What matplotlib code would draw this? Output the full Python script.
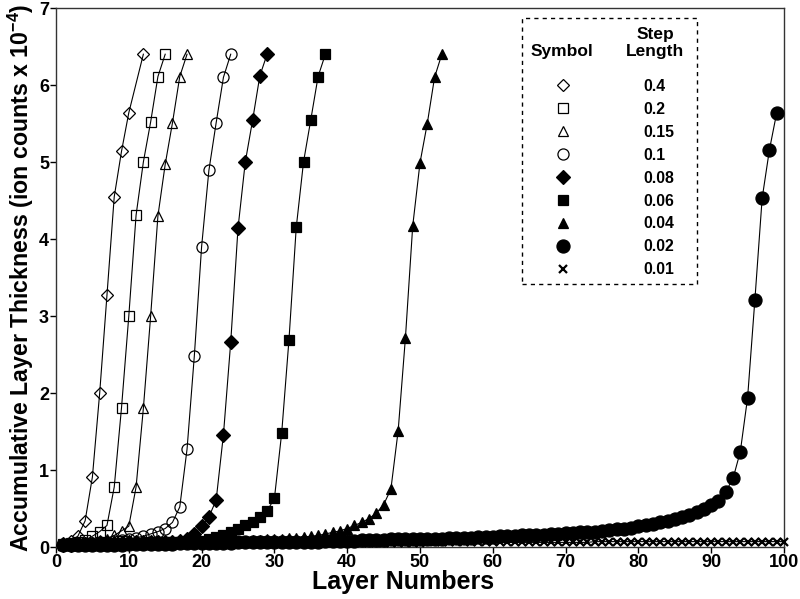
import matplotlib
matplotlib.use("Agg")
import matplotlib.pyplot as plt
from matplotlib.lines import Line2D

plt.rcParams['font.family'] = ['Liberation Sans', 'DejaVu Sans']
plt.rcParams['font.weight'] = 'bold'
plt.rcParams['mathtext.fontset'] = 'custom'
plt.rcParams['mathtext.rm'] = 'Liberation Sans:bold'
plt.rcParams['mathtext.bf'] = 'Liberation Sans:bold'
plt.rcParams['mathtext.it'] = 'Liberation Sans:italic:bold'

# ---------------- data ----------------
step_labels = ["0.4", "0.2", "0.15", "0.1", "0.08", "0.06", "0.04", "0.02", "0.01"]

s04_x = [1, 2, 3, 4, 5, 6, 7, 8, 9, 10, 12]
s04_y = [0.05, 0.08, 0.14, 0.34, 0.91, 2.00, 3.27, 4.55, 5.14, 5.64, 6.40]

s02_x = list(range(1, 16))
s02_y = [0.04, 0.05, 0.07, 0.09, 0.14, 0.20, 0.28, 0.78, 1.81, 3.00, 4.31, 5.00, 5.52, 6.11, 6.40]

s015_x = list(range(1, 19))
s015_y = [0.03, 0.04, 0.05, 0.06, 0.07, 0.09, 0.11, 0.15, 0.21, 0.27, 0.78, 1.80, 3.00, 4.30,
          4.97, 5.51, 6.11, 6.40]

s01_x = list(range(1, 25))
s01_y = [0.03, 0.04, 0.04, 0.05, 0.05, 0.06, 0.07, 0.08, 0.09, 0.10, 0.12, 0.14, 0.17, 0.20,
         0.24, 0.32, 0.52, 1.27, 2.48, 3.90, 4.89, 5.51, 6.10, 6.40]

s008_x = list(range(1, 30))
s008_y = [0.03, 0.03, 0.04, 0.04, 0.04, 0.05, 0.05, 0.05, 0.05, 0.06, 0.06, 0.06, 0.06, 0.07,
          0.07, 0.07, 0.08, 0.10, 0.17, 0.27, 0.39, 0.61, 1.46, 2.66, 4.14, 5.00, 5.54, 6.12, 6.40]

s006_x = list(range(1, 38))
s006_y = [0.03, 0.03, 0.03, 0.04, 0.04, 0.04, 0.04, 0.05, 0.05, 0.05, 0.05, 0.05, 0.06, 0.06,
          0.06, 0.06, 0.06, 0.07, 0.07, 0.08, 0.10, 0.13, 0.16, 0.20, 0.24, 0.28, 0.33, 0.39,
          0.47, 0.63, 1.48, 2.69, 4.15, 5.00, 5.55, 6.11, 6.40]

s004_x = list(range(1, 54))
s004_y = [0.02, 0.02, 0.03, 0.03, 0.03, 0.03, 0.04, 0.04, 0.04, 0.04,
          0.04, 0.05, 0.05, 0.05, 0.05, 0.05, 0.06, 0.06, 0.06, 0.06,
          0.07, 0.07, 0.07, 0.08, 0.08, 0.08, 0.09, 0.09, 0.10, 0.10,
          0.11, 0.12, 0.12, 0.13, 0.14, 0.15, 0.17, 0.19, 0.21, 0.24,
          0.28, 0.32, 0.37, 0.44, 0.55, 0.75, 1.51, 2.72, 4.17, 4.99,
          5.50, 6.10, 6.40]

s002_x = list(range(1, 100))
s002_y = [0.02, 0.02, 0.02, 0.03, 0.03, 0.03, 0.03, 0.03, 0.03, 0.04,
          0.04, 0.04, 0.04, 0.04, 0.04, 0.04, 0.05, 0.05, 0.05, 0.05,
          0.05, 0.05, 0.05, 0.05, 0.06, 0.06, 0.06, 0.06, 0.06, 0.06,
          0.07, 0.07, 0.07, 0.07, 0.07, 0.07, 0.08, 0.08, 0.08, 0.08,
          0.08, 0.09, 0.09, 0.09, 0.09, 0.10, 0.10, 0.10, 0.10, 0.11,
          0.11, 0.11, 0.11, 0.12, 0.12, 0.12, 0.12, 0.13, 0.13, 0.13,
          0.14, 0.14, 0.14, 0.15, 0.15, 0.16, 0.16, 0.17, 0.17, 0.18,
          0.18, 0.19, 0.20, 0.20, 0.21, 0.22, 0.23, 0.24, 0.25, 0.27,
          0.28, 0.30, 0.32, 0.34, 0.36, 0.39, 0.42, 0.46, 0.50, 0.55,
          0.60, 0.72, 0.89, 1.24, 1.94, 3.21, 4.53, 5.16, 5.64]

s001_x = list(range(1, 101))
s001_y = [0.03, 0.03, 0.03, 0.03, 0.03, 0.03, 0.03, 0.03, 0.03, 0.03,
          0.03, 0.03, 0.03, 0.04, 0.04, 0.04, 0.04, 0.04, 0.04, 0.04,
          0.04, 0.04, 0.04, 0.04, 0.04, 0.04, 0.04, 0.04, 0.04, 0.04,
          0.05, 0.05, 0.05, 0.05, 0.05, 0.05, 0.05, 0.05, 0.05, 0.05,
          0.05, 0.05, 0.05, 0.05, 0.05, 0.05, 0.05, 0.05, 0.05, 0.05,
          0.06, 0.06, 0.06, 0.06, 0.06, 0.06, 0.06, 0.06, 0.06, 0.06,
          0.06, 0.06, 0.06, 0.06, 0.06, 0.06, 0.06, 0.06, 0.06, 0.06,
          0.06, 0.06, 0.06, 0.07, 0.07, 0.07, 0.07, 0.07, 0.07, 0.07,
          0.07, 0.07, 0.07, 0.07, 0.07, 0.07, 0.07, 0.07, 0.07, 0.07,
          0.07, 0.07, 0.07, 0.07, 0.07, 0.07, 0.07, 0.07, 0.07, 0.07]

x_ticks = [0, 10, 20, 30, 40, 50, 60, 70, 80, 90, 100]
y_ticks = [0, 1, 2, 3, 4, 5, 6, 7]

# ---------------- styles ----------------
styles = {
    "0.4":  dict(marker='D', ms=6.6, mfc='none'),
    "0.2":  dict(marker='s', ms=7.2, mfc='none'),
    "0.15": dict(marker='^', ms=6.8, mfc='none'),
    "0.1":  dict(marker='o', ms=8.0, mfc='none'),
    "0.08": dict(marker='D', ms=6.8, mfc='black'),
    "0.06": dict(marker='s', ms=7.2, mfc='black'),
    "0.04": dict(marker='^', ms=7.8, mfc='black'),
    "0.02": dict(marker='o', ms=9.4, mfc='black'),
    "0.01": dict(marker='x', ms=5.5, mfc='black', mew=1.6),
}

series = {
    "0.4": (s04_x, s04_y), "0.2": (s02_x, s02_y), "0.15": (s015_x, s015_y),
    "0.1": (s01_x, s01_y), "0.08": (s008_x, s008_y), "0.06": (s006_x, s006_y),
    "0.04": (s004_x, s004_y), "0.02": (s002_x, s002_y), "0.01": (s001_x, s001_y),
}

fig = plt.figure(figsize=(8.0, 5.99), dpi=100)
ax = fig.add_axes([0.07, 0.0868, 0.91, 0.8998])

draw_order = ["0.4", "0.2", "0.15", "0.1", "0.01", "0.08", "0.06", "0.04", "0.02"]
for z, key in enumerate(draw_order):
    xs, ys = series[key]
    st = dict(styles[key])
    mew = st.pop('mew', 0.9)
    ax.plot(xs, ys, color='black', lw=0.8, mec='black', mew=mew, clip_on=False,
            zorder=3 + z, **st)

ax.set_xlim(0, 100)
ax.set_ylim(0, 7)
ax.set_xticks(x_ticks)
ax.set_yticks(y_ticks)
ax.tick_params(direction='out', length=4, width=1, labelsize=13, pad=1)
for lab in ax.get_xticklabels() + ax.get_yticklabels():
    lab.set_fontweight('bold')
for sp in ax.spines.values():
    sp.set_linewidth(1.0)
    sp.set_color('#333333')

ax.set_xlabel("Layer Numbers", fontsize=18, fontweight='bold')
ax.xaxis.label.set_verticalalignment('center')
ax.xaxis.set_label_coords(0.477, -0.064)
ax.set_ylabel("Accumulative Layer Thickness (ion counts x 10$^{-4}$)", fontsize=16.7,
              fontweight='bold', labelpad=2)

# ---------------- legend ----------------
handles = []
for key in step_labels:
    st = dict(styles[key])
    mew = st.pop('mew', 0.9)
    handles.append(Line2D([], [], color='black', ls='none', mec='black', mew=mew, **st))

leg = ax.legend(handles, step_labels, loc='upper left',
                bbox_to_anchor=(0.640, 0.490, 0.240, 0.491), mode='expand',
                borderaxespad=0, borderpad=0.4, handlelength=4.4, handletextpad=2.87,
                labelspacing=0.5, numpoints=1, title=' \n \n ', title_fontsize=10.8,
                prop={'weight': 'bold', 'size': 11.4}, fancybox=False, framealpha=1,
                edgecolor='black')
leg.get_frame().set_linestyle((0, (3, 3)))
leg.get_frame().set_linewidth(1.0)
leg.set_zorder(20)

ax.text(0.695, 0.920, "Symbol", transform=ax.transAxes, ha='center', va='center',
        fontsize=12.5, fontweight='bold', zorder=21)
ax.text(0.823, 0.950, "Step", transform=ax.transAxes, ha='center', va='center',
        fontsize=12.5, fontweight='bold', zorder=21)
ax.text(0.823, 0.920, "Length", transform=ax.transAxes, ha='center', va='center',
        fontsize=12.5, fontweight='bold', zorder=21)

fig.savefig("out.png", dpi=100)
